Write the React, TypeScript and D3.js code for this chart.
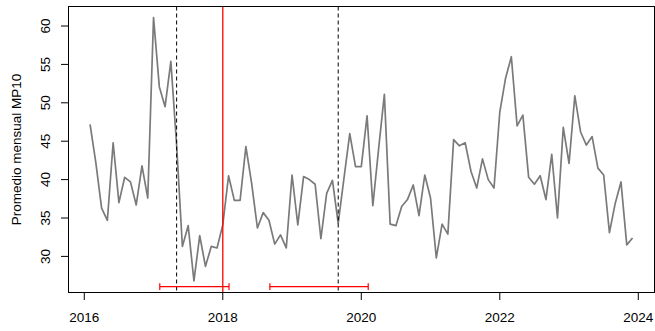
import React from "react";
import * as d3 from "d3";

// Monthly mean PM10 (Promedio mensual MP10), series starts February 2016
const seriesStart = 2016 + 1 / 12; // decimal time of first observation
const frequency = 12;
const mp10_2016 = [47.2, 42.2, 36.3, 34.7, 44.8, 37.0, 40.3, 39.7, 36.7, 41.8, 37.6];
const mp10_2017 = [61.1, 52.1, 49.5, 55.4, 44.5, 31.3, 34.0, 26.8, 32.7, 28.7, 31.3, 31.1];
const mp10_2018 = [34.1, 40.5, 37.3, 37.3, 44.3, 39.5, 33.7, 35.7, 34.7, 31.6, 32.8, 31.1];
const mp10_2019 = [40.6, 34.1, 40.4, 40.0, 39.4, 32.3, 38.2, 39.9, 34.3, 40.2, 46.0, 41.7];
const mp10_2020 = [41.7, 48.3, 36.6, 44.0, 51.1, 34.2, 34.0, 36.5, 37.4, 39.3, 35.3, 40.6];
const mp10_2021 = [37.6, 29.8, 34.2, 32.9, 45.2, 44.4, 44.8, 41.1, 38.9, 42.7, 40.0, 38.9];
const mp10_2022 = [48.8, 53.2, 56.0, 47.0, 48.4, 40.3, 39.4, 40.5, 37.4, 43.3, 35.0, 46.8];
const mp10_2023 = [42.1, 50.9, 46.2, 44.5, 45.6, 41.5, 40.6, 33.1, 36.9, 39.7, 31.5, 32.4];

const yTicks = [30, 35, 40, 45, 50, 55, 60];
const xTicks = [2016, 2018, 2020, 2022, 2024];
const breakpoints = [2017 + 4 / 12, 2019 + 8 / 12];
const ciLower = [2017.09, 2018.68];
const ciUpper = [2018.09, 2020.1];
const interventionTime = 2018.0;
const yLabel = "Promedio mensual MP10";

const values = [
  ...mp10_2016,
  ...mp10_2017,
  ...mp10_2018,
  ...mp10_2019,
  ...mp10_2020,
  ...mp10_2021,
  ...mp10_2022,
  ...mp10_2023,
];
const series = values.map((v, i) => ({ t: seriesStart + i / frequency, v }));

export default function App() {
  const W = 655;
  const H = 331;
  const left = 68.5;
  const right = 654.5;
  const top = 6.5;
  const bottom = 292.5;
  const font = "'Liberation Sans', Arial, Helvetica, sans-serif";
  const fs = 13.5;

  const x = d3.scaleLinear().domain([2015.772, 2024.234]).range([left, right]);
  const y = d3.scaleLinear().domain([25.3, 62.54]).range([bottom, top]);

  const line = d3
    .line<{ t: number; v: number }>()
    .x((d) => x(d.t))
    .y((d) => y(d.v));

  const ciY = 286.7;
  const capH = 3.4;

  return (
    <svg
      width={W}
      height={H}
      style={{ position: "absolute", left: 0, top: 0, background: "#fff" }}
    >
      <rect x={0} y={0} width={W} height={H} fill="#fff" />
      {/* series */}
      <path d={line(series) || ""} fill="none" stroke="#7a7a7a" strokeWidth={1.7} strokeLinejoin="round" />
      {/* breakpoints */}
      {breakpoints.map((b, i) => (
        <line
          key={"bp" + i}
          x1={x(b)}
          x2={x(b)}
          y1={top}
          y2={bottom}
          stroke="#000"
          strokeWidth={1}
          strokeDasharray="4 3"
        />
      ))}
      {/* intervention */}
      <line
        x1={x(interventionTime)}
        x2={x(interventionTime)}
        y1={top}
        y2={bottom}
        stroke="#ff0000"
        strokeWidth={1.3}
      />
      {/* confidence intervals */}
      {ciLower.map((lo, i) => (
        <g key={"ci" + i} stroke="#ff0000" strokeWidth={1.2}>
          <line x1={x(lo)} x2={x(ciUpper[i])} y1={ciY} y2={ciY} />
          <line x1={x(lo)} x2={x(lo)} y1={ciY - capH} y2={ciY + capH} />
          <line x1={x(ciUpper[i])} x2={x(ciUpper[i])} y1={ciY - capH} y2={ciY + capH} />
        </g>
      ))}
      {/* box */}
      <rect x={left} y={top} width={right - left} height={bottom - top} fill="none" stroke="#000" strokeWidth={1} />
      {/* x axis */}
      {xTicks.map((t) => (
        <g key={"xt" + t}>
          <line x1={x(t)} x2={x(t)} y1={bottom} y2={bottom + 7.5} stroke="#000" strokeWidth={1} />
          <text x={x(t)} y={322.3} textAnchor="middle" fontFamily={font} fontSize={fs} fill="#000">
            {t}
          </text>
        </g>
      ))}
      {/* y axis */}
      {yTicks.map((t) => (
        <g key={"yt" + t}>
          <line x1={left - 7.5} x2={left} y1={y(t)} y2={y(t)} stroke="#000" strokeWidth={1} />
          <text
            transform={`translate(50.2,${y(t)}) rotate(-90)`}
            textAnchor="middle"
            fontFamily={font}
            fontSize={fs}
            fill="#000"
          >
            {t}
          </text>
        </g>
      ))}
      <text
        transform={`translate(20.5,${(top + bottom) / 2}) rotate(-90)`}
        textAnchor="middle"
        fontFamily={font}
        fontSize={fs}
        fill="#000"
      >
        {yLabel}
      </text>
    </svg>
  );
}
